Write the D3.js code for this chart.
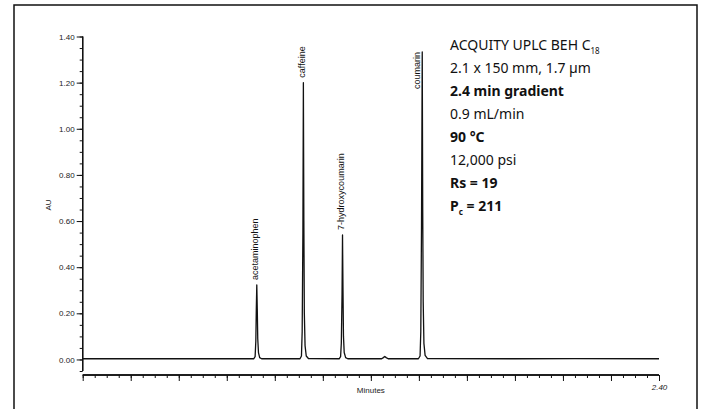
<!DOCTYPE html>
<html>
<head>
<meta charset="utf-8">
<script src="https://cdn.jsdelivr.net/npm/d3@7"></script>
<style>
  html, body { margin: 0; padding: 0; background: #fff; }
  svg { display: block; }
</style>
</head>
<body>
<svg id="chart" width="704" height="409"></svg>
<script>
// ---------------- data ----------------
const yMajorTicks = [0.00, 0.20, 0.40, 0.60, 0.80, 1.00, 1.20, 1.40];
const yTickLabels = ["0.00", "0.20", "0.40", "0.60", "0.80", "1.00", "1.20", "1.40"];
const xMajorTicks = [0.2, 0.4, 0.6, 0.8, 1.0, 1.2, 1.4, 1.6, 1.8, 2.0, 2.2, 2.4];
const xTickLabels = ["", "", "", "", "", "", "", "", "", "", "", "2.40"];
const xLabel = "Minutes";
const yLabel = "AU";

const peakNames = ["acetaminophen", "caffeine", "7-hydroxycoumarin", "coumarin"];
const peakTimes = [0.725, 0.919, 1.082, 1.414];
const peakHeights = [0.323, 1.200, 0.540, 1.333];

// chromatogram trace: [minutes, AU]
const traceTime = [
  0.000, 0.300, 0.600,
  0.712, 0.718, 0.721, 0.723, 0.725, 0.727, 0.729, 0.732, 0.737, 0.745,
  0.905, 0.911, 0.914, 0.917, 0.919, 0.921, 0.923, 0.926, 0.931, 0.940,
  1.068, 1.074, 1.077, 1.080, 1.082, 1.084, 1.086, 1.089, 1.095, 1.104,
  1.245, 1.252, 1.258, 1.264, 1.272,
  1.398, 1.405, 1.408, 1.411, 1.414, 1.416, 1.418, 1.421, 1.426, 1.436,
  1.800, 2.050, 2.400
];
const traceAU = [
  0.003, 0.003, 0.003,
  0.003, 0.012, 0.080, 0.220, 0.323, 0.220, 0.090, 0.030, 0.008, 0.003,
  0.003, 0.015, 0.120, 0.550, 1.200, 0.600, 0.200, 0.060, 0.015, 0.004,
  0.003, 0.012, 0.070, 0.280, 0.540, 0.300, 0.100, 0.030, 0.008, 0.003,
  0.003, 0.008, 0.013, 0.008, 0.003,
  0.003, 0.015, 0.120, 0.580, 1.333, 0.650, 0.250, 0.070, 0.018, 0.004,
  0.003, 0.004, 0.003
];

const infoLines = [
  { text: "ACQUITY UPLC BEH C", sub: "18", bold: false },
  { text: "2.1 x 150 mm, 1.7 µm", sub: "", bold: false },
  { text: "2.4 min gradient", sub: "", bold: true },
  { text: "0.9 mL/min", sub: "", bold: false },
  { text: "90 °C", sub: "", bold: true },
  { text: "12,000 psi", sub: "", bold: false },
  { text: "Rs = 19", sub: "", bold: true },
  { text: "P", sub: "c", after: " = 211", bold: true }
];

// ---------------- drawing ----------------
const svg = d3.select("#chart");
const W = 704, H = 409;

const x = d3.scaleLinear().domain([0, 2.4]).range([82.7, 659]);
const y = d3.scaleLinear().domain([-0.05, 1.40]).range([371, 36.5]);

const axisFont = "'Liberation Sans', Arial, sans-serif";

// frame
svg.append("path")
  .attr("d", `M14,${H} L14,5 L697,5 L697,${H}`)
  .attr("fill", "none").attr("stroke", "#111").attr("stroke-width", 1.5);

// y axis
const yMinor = d3.range(-0.05, 1.4001, 0.05).map(v => +v.toFixed(2));
const gyMinor = svg.append("g").attr("transform", `translate(${x(0)},0)`)
  .call(d3.axisLeft(y).tickValues(yMinor).tickSize(3).tickFormat(""));
const gy = svg.append("g").attr("transform", `translate(${x(0)},0)`)
  .call(d3.axisLeft(y).tickValues(yMajorTicks).tickSize(6).tickPadding(2)
    .tickFormat((d, i) => yTickLabels[i]));
[gy, gyMinor].forEach(g => {
  g.selectAll("path.domain").attr("stroke", "#111").attr("stroke-width", 1.3);
  g.selectAll("line").attr("stroke", "#111").attr("stroke-width", 1);
});
gyMinor.select("path.domain").attr("d", `M0,${y(1.4)}V${y(-0.05)}`);
gy.select("path.domain").attr("d", `M0,${y(1.4)}V${y(-0.05)}`);
gy.selectAll("text").attr("font-family", axisFont).attr("font-size", 8).attr("fill", "#222");

// x axis
const axisY = 375;
const xMinor = d3.range(0, 2.4001, 0.05).map(v => +v.toFixed(2));
const gxMinor = svg.append("g").attr("transform", `translate(0,${axisY})`)
  .call(d3.axisBottom(x).tickValues(xMinor).tickSize(3).tickFormat(""));
const gx = svg.append("g").attr("transform", `translate(0,${axisY})`)
  .call(d3.axisBottom(x).tickValues([0].concat(xMajorTicks)).tickSize(6).tickPadding(3)
    .tickFormat((d, i) => i === 0 ? "" : xTickLabels[i - 1]));
[gx, gxMinor].forEach(g => {
  g.selectAll("path.domain").attr("stroke", "#111").attr("stroke-width", 1.3)
    .attr("d", `M${x(0)},0H${x(2.4)}`);
  g.selectAll("line").attr("stroke", "#111").attr("stroke-width", 1);
});
gx.selectAll("text").attr("font-family", axisFont).attr("font-size", 8).attr("fill", "#222")
  .attr("font-style", "italic");

// axis titles
svg.append("text")
  .attr("x", (x(0) + x(2.4)) / 2 + 0).attr("y", 393)
  .attr("text-anchor", "middle")
  .attr("font-family", axisFont).attr("font-size", 8).attr("fill", "#222")
  .text(xLabel);
svg.append("text")
  .attr("transform", `translate(51,${y(0.67)}) rotate(-90)`)
  .attr("text-anchor", "middle")
  .attr("font-family", axisFont).attr("font-size", 8).attr("fill", "#222")
  .text(yLabel);

// trace
const trace = traceTime.map((t, i) => [t, traceAU[i]]);
svg.append("path")
  .datum(trace)
  .attr("fill", "none").attr("stroke", "#111").attr("stroke-width", 1.3)
  .attr("stroke-linejoin", "round")
  .attr("d", d3.line().x(d => x(d[0])).y(d => y(d[1])));

// peak labels
const labelFont = "'Liberation Sans', Arial, sans-serif";
const labelSize = 9;
const gap = 5;
peakNames.forEach((name, i) => {
  const px = x(peakTimes[i]);
  const py = y(peakHeights[i]);
  const t = svg.append("text")
    .attr("font-family", labelFont).attr("font-size", labelSize).attr("fill", "#111")
    .attr("dy", "0.35em")
    .text(name);
  const len = t.node().getComputedTextLength();
  let bottom, lx;
  if (py - gap - len < y(1.4)) {
    // not enough room above: put the label beside the peak, top aligned to apex
    bottom = py + len;
    lx = px - 5;
  } else {
    bottom = py - gap;
    lx = px - 2;
  }
  t.attr("transform", `translate(${lx},${bottom}) rotate(-90)`);
});

// info block
const infoFont = "'Noto Sans', 'Open Sans', sans-serif";
const infoX = 450, infoY0 = 50, infoDy = 23, infoSize = 14;
infoLines.forEach((ln, i) => {
  const t = svg.append("text")
    .attr("x", infoX).attr("y", infoY0 + i * infoDy)
    .attr("font-family", infoFont).attr("font-size", infoSize)
    .attr("font-weight", ln.bold ? 700 : 400)
    .attr("fill", "#111");
  t.append("tspan").text(ln.text);
  if (ln.sub) {
    t.append("tspan").attr("dy", 4).attr("font-size", 8).text(ln.sub);
    if (ln.after) t.append("tspan").attr("dy", -4).text(ln.after);
  }
});
</script>
</body>
</html>
